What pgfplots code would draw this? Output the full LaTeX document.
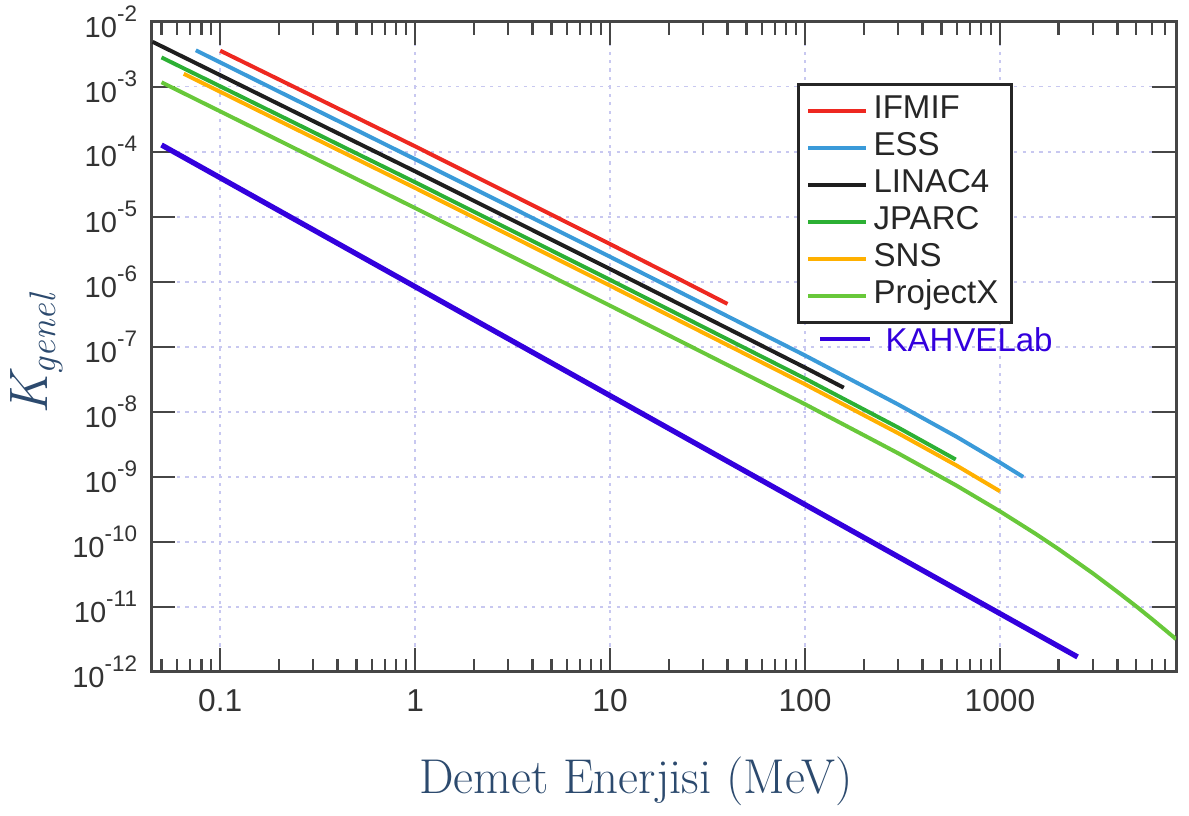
\documentclass[border=0pt]{standalone}
\usepackage{fontspec}
\usepackage{pgfplots}
\pgfplotsset{compat=1.18}
\setsansfont{Liberation Sans}
\definecolor{cifmif}{RGB}{238,40,32}
\definecolor{cess}{RGB}{58,154,217}
\definecolor{clinac}{RGB}{30,30,30}
\definecolor{cjparc}{RGB}{44,176,52}
\definecolor{csns}{RGB}{255,176,0}
\definecolor{cprojx}{RGB}{104,200,58}
\definecolor{ckahve}{RGB}{51,0,221}
\definecolor{labblue}{RGB}{44,74,110}
\definecolor{gridc}{RGB}{200,200,240}
\definecolor{axc}{RGB}{70,70,70}
\newcommand\pw[1]{10\raisebox{1.0ex}{\fontsize{8.5}{9}\selectfont #1}}
\begin{document}
\begin{tikzpicture}
\begin{axis}[
  xmode=log, ymode=log,
  scale only axis,
  width=387.7pt, height=246.1pt,
  xmin=0.0445, xmax=8000,
  ymin=1e-12, ymax=1e-2,
  xtick={0.1,1,10,100,1000},
  xticklabels={0.1,1,10,100,1000},
  minor xtick={0.05,0.06,0.07,0.08,0.09,0.2,0.3,0.4,0.5,0.6,0.7,0.8,0.9,2,3,4,5,6,7,8,9,20,30,40,50,60,70,80,90,200,300,400,500,600,700,800,900,2000,3000,4000,5000,6000,7000},
  ytick={1e-12,1e-11,1e-10,1e-9,1e-8,1e-7,1e-6,1e-5,1e-4,1e-3,1e-2},
  yticklabels={\pw{-12},\pw{-11},\pw{-10},\pw{-9},\pw{-8},\pw{-7},\pw{-6},\pw{-5},\pw{-4},\pw{-3},\pw{-2}},
  yminorticks=false,
  tick align=inside,
  major tick length=9pt,
  minor tick length=5pt,
  every tick/.style={axc, line width=0.9pt},
  axis line style={axc, line width=1.1pt},
  xmajorgrids, ymajorgrids,
  major grid style={gridc, line width=0.6pt, dash pattern=on 1.2pt off 2pt},
  xticklabel style={font=\sffamily\fontsize{12}{14}\selectfont, text=black!80, yshift=-3pt},
  yticklabel style={font=\sffamily\fontsize{11}{13}\selectfont, text=black!80, inner ysep=0pt, xshift=-2pt},
  legend style={at={(axis description cs:0.6296,0.906)}, anchor=north west,
    draw=black!85, line width=1.3pt, fill=white,
    font=\sffamily\fontsize{12.5}{14}\selectfont, text=black!85,
    inner xsep=3pt, inner ysep=3pt, row sep=0pt,
    nodes={text height=9pt, text depth=3pt, inner ysep=1pt}},
  legend cell align=left,
  legend image code/.code={\draw[#1] (0pt,0pt) -- (22pt,0pt);},
]
\addplot[cifmif, line width=1.5pt] coordinates {(0.1,3.58e-3) (1,1.21e-4) (10,3.8e-6) (23,1.07e-6) (40,4.57e-7)};
\addlegendentry{IFMIF}
\addplot[cess, line width=1.5pt] coordinates {(0.075,3.63e-3) (1,7.67e-5) (10,2.42e-6) (100,7.36e-8) (300,1.30e-8) (600,4.12e-9) (1000,1.66e-9) (1315,9.98e-10)};
\addlegendentry{ESS}
\addplot[clinac, line width=1.5pt] coordinates {(0.045,4.9e-3) (1,4.99e-5) (10,1.57e-6) (100,4.79e-8) (158,2.35e-8)};
\addlegendentry{LINAC4}
\addplot[cjparc, line width=1.5pt] coordinates {(0.05,2.82e-3) (1,3.39e-5) (10,1.07e-6) (100,3.25e-8) (300,5.75e-9) (593,1.85e-9)};
\addlegendentry{JPARC}
\addplot[csns, line width=1.5pt] coordinates {(0.065,1.58e-3) (1,2.77e-5) (10,8.71e-7) (100,2.65e-8) (300,4.70e-9) (600,1.49e-9) (1000,6.0e-10)};
\addlegendentry{SNS}
\addplot[cprojx, line width=1.5pt] coordinates {(0.05,1.17e-3) (1,1.36e-5) (10,4.29e-7) (100,1.31e-8) (300,2.31e-9) (600,7.31e-10) (1000,2.95e-10) (1500,1.37e-10) (2000,7.72e-11) (3000,3.27e-11) (4000,1.71e-11) (5000,1.02e-11) (6000,6.56e-12) (7000,4.47e-12) (8000,3.20e-12)};
\addlegendentry{ProjectX}
\addplot[ckahve, line width=2pt, forget plot] coordinates {(0.05,1.27e-4) (1,8.4e-7) (2500,1.7e-12)};
\draw[ckahve, line width=1.6pt] (axis description cs:0.6525,0.5116) -- (axis description cs:0.7013,0.5116);
\node[anchor=west, inner sep=0pt, font=\sffamily\fontsize{12.5}{14}\selectfont, text=ckahve] at (axis description cs:0.7159,0.5116) {KAHVELab};
\end{axis}
\node[anchor=base, text=labblue, font=\fontsize{18.5}{20}\selectfont] at ([xshift=-10.6pt, yshift=-46.2pt]current axis.south) {Demet Enerjisi (MeV)};
\node[rotate=90, anchor=base, text=labblue] at ([xshift=-39.3pt, yshift=-3pt]current axis.west) {\fontsize{20.5}{22}\selectfont\itshape K\raisebox{-3pt}{\fontsize{14}{16}\selectfont genel}};
\path ([xshift=-57.4pt,yshift=-52.6pt]current axis.south west) rectangle ([xshift=4.9pt,yshift=8.2pt]current axis.north east);
\end{tikzpicture}
\end{document}
